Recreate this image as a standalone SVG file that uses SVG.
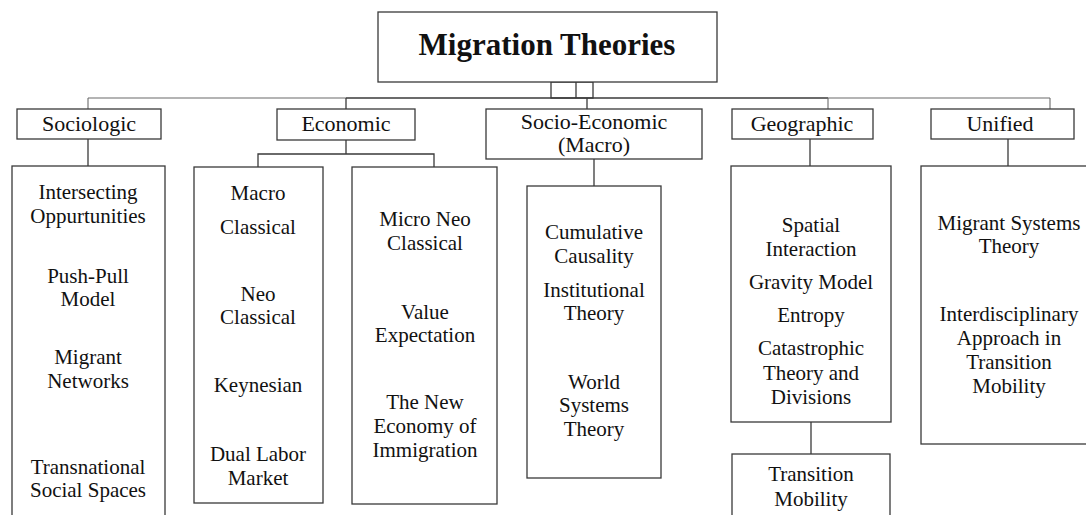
<svg xmlns="http://www.w3.org/2000/svg" width="1086" height="515" viewBox="0 0 1086 515">
<style>
.box{fill:#fff;stroke:#3a3a3a;stroke-width:1.3}
.ln{fill:none;stroke:#3a3a3a;stroke-width:1.3}
.lnt{fill:none;stroke:#6a6a6a;stroke-width:1.1}
text{font-family:"Liberation Serif","Times New Roman",serif;font-size:21px;fill:#111;text-anchor:middle}
.hd{font-size:22px}
.title{font-size:31px;font-weight:bold}
</style>
<g id="connectors">
<rect class="ln" x="551" y="82" width="42" height="16"/>
<line class="ln" x1="576" y1="82" x2="576" y2="98"/>
<line class="lnt" x1="88" y1="98" x2="346" y2="98"/>
<line class="ln" x1="346" y1="98" x2="828" y2="98"/>
<line class="lnt" x1="828" y1="98" x2="1050" y2="98"/>
<line class="lnt" x1="88" y1="98" x2="88" y2="109"/>
<line class="ln" x1="346" y1="98" x2="346" y2="109"/>
<line class="ln" x1="587" y1="98" x2="587" y2="109"/>
<line class="lnt" x1="828" y1="98" x2="828" y2="109"/>
<line class="lnt" x1="1050" y1="98" x2="1050" y2="109"/>
<line class="ln" x1="88" y1="139" x2="88" y2="166"/>
<path class="ln" d="M346 140 V154 M258 167 V154 H434 V167"/>
<line class="ln" x1="594" y1="159" x2="594" y2="186"/>
<line class="ln" x1="810" y1="139" x2="810" y2="166"/>
<line class="ln" x1="1008" y1="139" x2="1008" y2="166"/>
<line class="ln" x1="811" y1="422" x2="811" y2="454"/>
</g>
<g id="root">
<rect class="box" x="378" y="12" width="339" height="70"/>
<text class="title" x="547" y="55">Migration Theories</text>
</g>
<g id="sociologic">
<rect class="box" x="17" y="109" width="144" height="30"/>
<text class="hd" x="89" y="131">Sociologic</text>
</g>
<g id="economic">
<rect class="box" x="277" y="109" width="138" height="31"/>
<text class="hd" x="346" y="131">Economic</text>
</g>
<g id="socio-economic">
<rect class="box" x="486" y="109" width="216" height="50"/>
<text class="hd" x="594" y="129">Socio-Economic</text>
<text class="hd" x="594" y="152">(Macro)</text>
</g>
<g id="geographic">
<rect class="box" x="732" y="109" width="141" height="30"/>
<text class="hd" x="802" y="131">Geographic</text>
</g>
<g id="unified">
<rect class="box" x="931" y="109" width="143" height="30"/>
<text class="hd" x="1000" y="131">Unified</text>
</g>
<g id="sociologic-list">
<rect class="box" x="12" y="166" width="153" height="360"/>
<text x="88" y="199">Intersecting</text>
<text x="88" y="223">Oppurtunities</text>
<text x="88" y="283">Push-Pull</text>
<text x="88" y="306">Model</text>
<text x="88" y="364">Migrant</text>
<text x="88" y="388">Networks</text>
<text x="88" y="474">Transnational</text>
<text x="88" y="497">Social Spaces</text>
</g>
<g id="macro-list">
<rect class="box" x="194" y="167" width="129" height="336"/>
<text x="258" y="200">Macro</text>
<text x="258" y="234">Classical</text>
<text x="258" y="301">Neo</text>
<text x="258" y="324">Classical</text>
<text x="258" y="392">Keynesian</text>
<text x="258" y="461">Dual Labor</text>
<text x="258" y="485">Market</text>
</g>
<g id="micro-list">
<rect class="box" x="352" y="167" width="145" height="337"/>
<text x="425" y="226">Micro Neo</text>
<text x="425" y="250">Classical</text>
<text x="425" y="319">Value</text>
<text x="425" y="342">Expectation</text>
<text x="425" y="409">The New</text>
<text x="425" y="433">Economy of</text>
<text x="425" y="457">Immigration</text>
</g>
<g id="socio-economic-list">
<rect class="box" x="527" y="186" width="134" height="292"/>
<text x="594" y="239">Cumulative</text>
<text x="594" y="263">Causality</text>
<text x="594" y="297">Institutional</text>
<text x="594" y="320">Theory</text>
<text x="594" y="389">World</text>
<text x="594" y="412">Systems</text>
<text x="594" y="436">Theory</text>
</g>
<g id="geographic-list">
<rect class="box" x="731" y="166" width="160" height="256"/>
<text x="811" y="232">Spatial</text>
<text x="811" y="256">Interaction</text>
<text x="811" y="289">Gravity Model</text>
<text x="811" y="322">Entropy</text>
<text x="811" y="355">Catastrophic</text>
<text x="811" y="380">Theory and</text>
<text x="811" y="404">Divisions</text>
</g>
<g id="transition-mobility">
<rect class="box" x="732" y="454" width="158" height="70"/>
<text x="811" y="481">Transition</text>
<text x="811" y="506">Mobility</text>
</g>
<g id="unified-list">
<rect class="box" x="921" y="166" width="175" height="278"/>
<text x="1009" y="230">Migrant Systems</text>
<text x="1009" y="253">Theory</text>
<text x="1009" y="321">Interdisciplinary</text>
<text x="1009" y="345">Approach in</text>
<text x="1009" y="369">Transition</text>
<text x="1009" y="393">Mobility</text>
</g>
</svg>
